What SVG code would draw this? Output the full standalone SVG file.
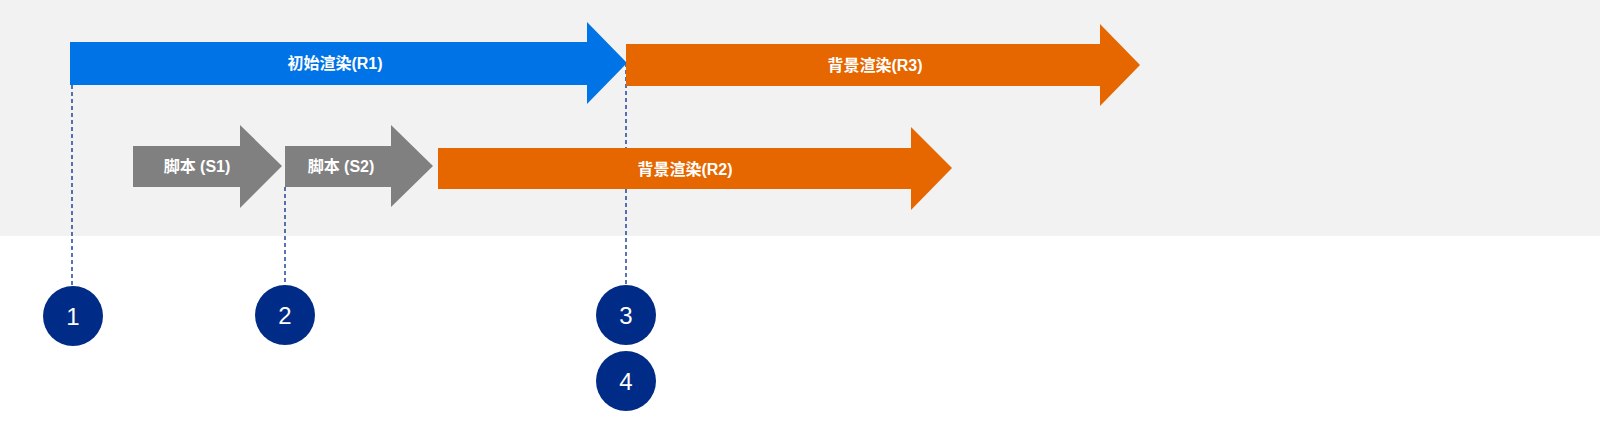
<svg xmlns="http://www.w3.org/2000/svg" width="1600" height="421" viewBox="0 0 1600 421">
<style>
.lbl{font-family:"Liberation Sans","Noto Sans CJK SC",sans-serif;font-size:16px;font-weight:bold;fill:#fff;text-anchor:middle}
.num{font-family:"Liberation Sans",sans-serif;font-size:24px;fill:#fff;text-anchor:middle}
.dash{stroke:#002B87;stroke-width:1.3;stroke-dasharray:4,3;fill:none}
.c{fill:#002B87}
</style>
<rect x="0" y="0" width="1600" height="236" fill="#F2F2F2"/>
<g id="connectors">
<line class="dash" x1="72" y1="85" x2="72" y2="287"/>
<line class="dash" x1="285" y1="187" x2="285" y2="287"/>
<line class="dash" x1="626" y1="63" x2="626" y2="287"/>
</g>
<g id="R1"><polygon points="70,42 587,42 587,22 627,63 587,104 587,85 70,85" fill="#0073E6"/><text class="lbl" x="335" y="69">初始渲染(R1)</text></g>
<g id="R3"><polygon points="626,44 1100,44 1100,24 1140,65 1100,106 1100,86 626,86" fill="#E66600"/><text class="lbl" x="875" y="71">背景渲染(R3)</text></g>
<g id="S1"><polygon points="133,146 240,146 240,125 282,166 240,208 240,187 133,187" fill="#808080"/><text class="lbl" x="197" y="172">脚本 (S1)</text></g>
<g id="S2"><polygon points="285,146 391,146 391,125 433,166 391,207 391,187 285,187" fill="#808080"/><text class="lbl" x="341" y="172">脚本 (S2)</text></g>
<g id="R2"><polygon points="438,148 911,148 911,127 952,168 911,210 911,189 438,189" fill="#E66600"/><text class="lbl" x="685" y="175">背景渲染(R2)</text></g>
<g id="n1"><circle class="c" cx="73" cy="316" r="30"/><text class="num" x="73" y="325">1</text></g>
<g id="n2"><circle class="c" cx="285" cy="315" r="30"/><text class="num" x="285" y="324">2</text></g>
<g id="n3"><circle class="c" cx="626" cy="315" r="30"/><text class="num" x="626" y="324">3</text></g>
<g id="n4"><circle class="c" cx="626" cy="381" r="30"/><text class="num" x="626" y="390">4</text></g>
</svg>
